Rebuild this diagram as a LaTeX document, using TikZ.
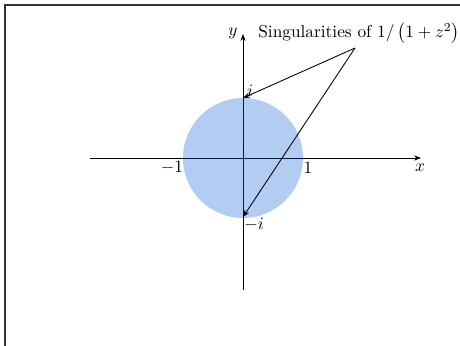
\documentclass[tikz,border=0pt]{standalone}
\usetikzlibrary{arrows.meta}
\definecolor{diskblue}{RGB}{0,85,212}
\begin{document}
\begin{tikzpicture}[x=0.578pt,y=-0.578pt,
  axis/.style={line width=0.5pt,-{Stealth[length=4pt,width=3pt]}},
  pointer/.style={line width=0.5pt,-{Stealth[length=4pt,width=3pt]}},
  lbl/.style={inner sep=1pt}]
\useasboundingbox (0,0) rectangle (460,345);
\clip (0,0) rectangle (460,345);
\draw[line width=0.8pt,black!80] (5,360) -- (5,5) -- (470,5);
\coordinate (O) at (243,158);
\coordinate (ip) at (243,98);
\coordinate (im) at (243,217);
\coordinate (xs) at (90,158);
\coordinate (xe) at (421,158);
\coordinate (ys) at (243,290);
\coordinate (ye) at (243,34);
\draw[axis] (xs) -- (xe);
\draw[axis] (ys) -- (ye);
\fill[diskblue,fill opacity=0.3] (O) circle (60);
\node[lbl] (xl) at (420,168) {$x$};
\node[lbl] (yl) at (233,33) {$y$};
\node[lbl] (m1) at (172,168) {$-1$};
\node[lbl] (p1) at (308,168) {$1$};
\node[lbl] (il) at (250,91) {$i$};
\node[lbl] (mil) at (254,225) {$-i$};
\node[lbl] (sing) at (359,33) {Singularities of $1/\left(1+z^2\right)$};
\coordinate (src) at (355,48);
\draw[pointer] (src) -- (ip);
\draw[pointer] (src) -- (im);
\end{tikzpicture}
\end{document}
